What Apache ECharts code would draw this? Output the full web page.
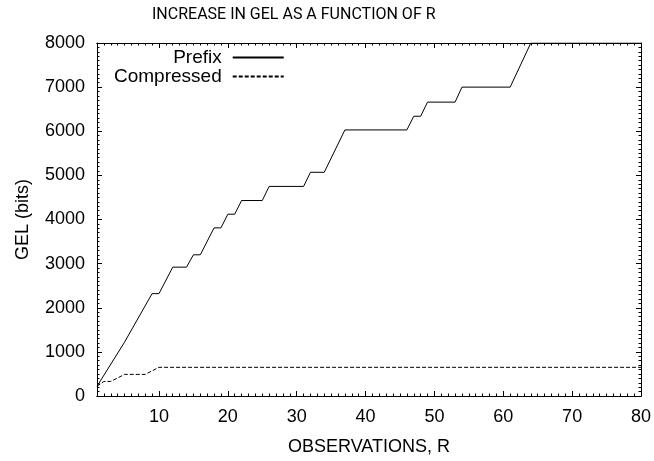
<!DOCTYPE html>
<html>
<head>
<meta charset="utf-8">
<script src="https://cdn.jsdelivr.net/npm/echarts@6/dist/echarts.min.js"></script>
<style>
  html, body { margin: 0; padding: 0; background: #ffffff; }
  #chart { width: 654px; height: 461px; }
</style>
</head>
<body>
<div id="chart"></div>
<script>
// Prefix encoding: breakpoints of the GEL curve (R, bits)
const prefixR   = [1, 5, 9, 10, 12, 14, 15, 16, 18, 19, 20, 21, 22, 25, 26, 31, 32, 34, 37, 46, 47, 48, 49, 53, 54, 61, 64, 80];
const prefixGEL = [220, 1220, 2320, 2320, 2920, 2920, 3200, 3200, 3810, 3810, 4120, 4120, 4430, 4430, 4750, 4750, 5070, 5070, 6030, 6030, 6340, 6340, 6660, 6660, 7000, 7000, 8000, 8000];

// Compressed encoding
const compressedR   = [1, 2, 3, 5, 8, 10, 80];
const compressedGEL = [220, 330, 330, 490, 490, 650, 650];

// Axis ticks
const xTicks = [10, 20, 30, 40, 50, 60, 70, 80];
const xMinorTicks = [];
for (let r = 2; r < 80; r++) if (r % 10 !== 0) xMinorTicks.push(r);

const FONT = "'Liberation Sans', Arial, Helvetica, sans-serif";

const pairs = (xs, ys) => xs.map((x, i) => [x, ys[i]]);

const chart = echarts.init(document.getElementById('chart'), null, { renderer: 'canvas' });

const baseX = {
  type: 'value', min: 1, max: 80,
  splitLine: { show: false },
  axisLine: { show: true, onZero: false, lineStyle: { color: '#000', width: 1 } }
};
const baseY = {
  type: 'value', min: 0, max: 8000, interval: 1000,
  splitLine: { show: false },
  axisLine: { show: true, onZero: false, lineStyle: { color: '#000', width: 1 } },
  axisTick: { show: true, inside: true, length: 5, lineStyle: { color: '#000' } },
  minorTick: { show: true, splitNumber: 10, length: 2.5, lineStyle: { color: '#000' } }
};

chart.setOption({
  animation: false,
  backgroundColor: '#ffffff',
  title: {
    text: 'INCREASE IN GEL AS A FUNCTION OF R',
    left: 152, top: 7, padding: 0,
    textStyle: { fontFamily: "Roboto, " + FONT, fontSize: 16, fontWeight: 'normal', color: '#000' }
  },
  legend: {
    data: ['Prefix', 'Compressed'],
    orient: 'vertical', align: 'right',
    left: 114, top: 48, padding: 0,
    itemWidth: 51, itemHeight: 14, itemGap: 0,
    itemStyle: { opacity: 0 },
    textStyle: { fontFamily: FONT, fontSize: 19, color: '#000', lineHeight: 19, padding: [0, 6, 0, 0] }
  },
  grid: { left: 97, right: 11, top: 43, bottom: 62, containLabel: false },
  xAxis: [
    Object.assign({}, baseX, {
      position: 'bottom',
      name: 'OBSERVATIONS, R', nameLocation: 'middle', nameGap: 42,
      nameTextStyle: { fontFamily: FONT, fontSize: 18, color: '#000' },
      axisTick: { show: true, inside: true, length: 5, customValues: xTicks, lineStyle: { color: '#000' } },
      axisLabel: { show: true, customValues: xTicks, margin: 12, fontFamily: FONT, fontSize: 18, color: '#000' }
    }),
    Object.assign({}, baseX, {
      position: 'bottom',
      axisTick: { show: true, inside: true, length: 2.5, customValues: xMinorTicks, lineStyle: { color: '#000' } },
      axisLabel: { show: false }
    }),
    Object.assign({}, baseX, {
      position: 'top',
      axisTick: { show: true, inside: true, length: 5, customValues: xTicks, lineStyle: { color: '#000' } },
      axisLabel: { show: false }
    }),
    Object.assign({}, baseX, {
      position: 'top',
      axisTick: { show: true, inside: true, length: 2.5, customValues: xMinorTicks, lineStyle: { color: '#000' } },
      axisLabel: { show: false }
    })
  ],
  yAxis: [
    Object.assign({}, baseY, {
      position: 'left',
      name: 'GEL (bits)', nameLocation: 'middle', nameGap: 65,
      nameTextStyle: { fontFamily: FONT, fontSize: 18, color: '#000' },
      axisLabel: { show: true, margin: 12, fontFamily: FONT, fontSize: 18, color: '#000',
                   formatter: v => String(v) }
    }),
    Object.assign({}, baseY, {
      position: 'right',
      axisLabel: { show: false }
    })
  ],
  series: [
    {
      name: 'Prefix', type: 'line', xAxisIndex: 0, yAxisIndex: 0,
      data: pairs(prefixR, prefixGEL),
      symbol: 'none', showSymbol: false,
      lineStyle: { color: '#000', width: 1, type: 'solid' },
      itemStyle: { color: '#000' }
    },
    {
      name: 'Compressed', type: 'line', xAxisIndex: 0, yAxisIndex: 0,
      data: pairs(compressedR, compressedGEL),
      symbol: 'none', showSymbol: false,
      lineStyle: { color: '#000', width: 1, type: [4, 2] },
      itemStyle: { color: '#000' }
    }
  ]
});
</script>
</body>
</html>
